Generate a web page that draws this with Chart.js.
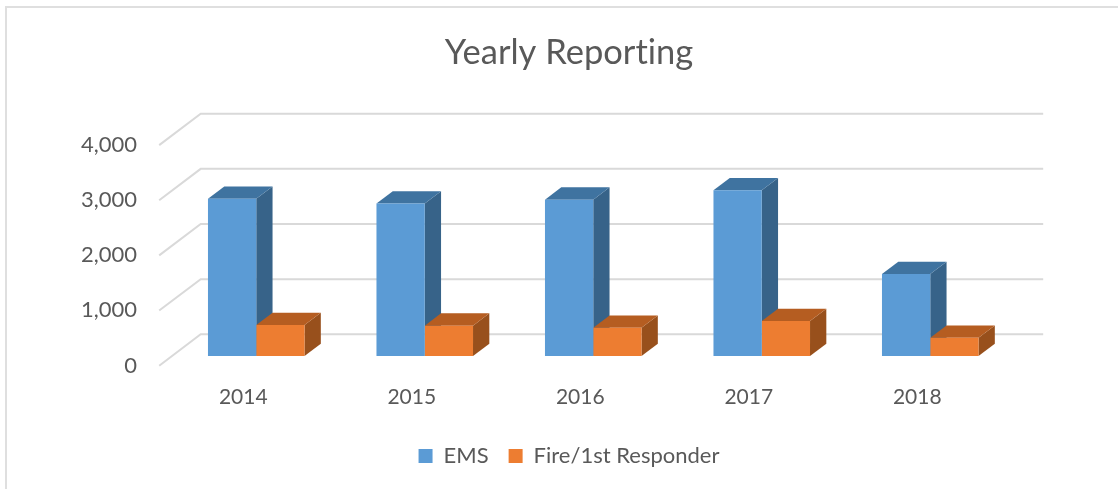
<!DOCTYPE html>
<html><head><meta charset="utf-8">
<style>html,body{margin:0;padding:0;background:#fff;overflow:hidden}#w{width:1118px;height:489px;position:relative}canvas{display:block}</style>
<script src="https://cdn.jsdelivr.net/npm/chart.js@4"></script></head>
<body><div id="w"><canvas id="c" width="1118" height="489"></canvas></div>
<script>
const categories = ['2014','2015','2016','2017','2018'];
const emsValues = [2850,2765,2835,3005,1485];
const fireValues = [560,550,510,635,330];
const yTicks = [0,1000,2000,3000,4000];

// 3D projection offsets (px) relative to the plane of the bar front faces
const barDepth = {dx:16.3, dy:-12.3};
const backPlane = {dx:28.7, dy:-21.7};
const frontPlane = {dx:-12.8, dy:9.7};

function shade(ctx, pts, fill){
  ctx.beginPath();
  pts.forEach((p,i)=> i?ctx.lineTo(p[0],p[1]):ctx.moveTo(p[0],p[1]));
  ctx.closePath();
  ctx.fillStyle = fill; ctx.fill();
}
const depth3d = {
  id:'depth3d',
  beforeDatasetsDraw(chart){
    const {ctx,chartArea:a,scales:{y}} = chart;
    ctx.save();
    ctx.strokeStyle='#d9d9d9'; ctx.lineWidth=2;
    yTicks.forEach(v=>{
      const p=y.getPixelForValue(v);
      ctx.beginPath();
      ctx.moveTo(a.left+frontPlane.dx,p+frontPlane.dy);
      ctx.lineTo(a.left+backPlane.dx,p+backPlane.dy);
      ctx.lineTo(a.right+backPlane.dx,p+backPlane.dy);
      ctx.stroke();
    });
    const faces=[['#3f73a0','#376389'],['#b55d21','#98501c']];
    chart.data.datasets.forEach((ds,di)=>{
      chart.getDatasetMeta(di).data.forEach(b=>{
        const l=b.x-b.width/2,r=b.x+b.width/2,t=b.y,bt=b.base,dx=barDepth.dx,dy=barDepth.dy;
        shade(ctx,[[r,t],[r+dx,t+dy],[r+dx,bt+dy],[r,bt]],faces[di][1]);
        shade(ctx,[[l,t],[l+dx,t+dy],[r+dx,t+dy],[r,t]],faces[di][0]);
      });
    });
    ctx.restore();
  }
};
const frame = {
  id:'frame',
  beforeDraw(chart){
    const {ctx,width,height}=chart;
    ctx.textRendering='optimizeSpeed';
    ctx.save();ctx.strokeStyle='#dfdfdf';ctx.lineWidth=2;
    ctx.beginPath();ctx.moveTo(6,height);ctx.lineTo(6,7);ctx.lineTo(width,7);ctx.stroke();
    ctx.restore();
  }
};
new Chart(document.getElementById('c'),{
  type:'bar',
  data:{labels:categories,datasets:[
    {label:'EMS',data:emsValues,backgroundColor:'#5b9bd5',barPercentage:1,categoryPercentage:0.573},
    {label:'Fire/1st Responder',data:fireValues,backgroundColor:'#ed7d31',barPercentage:1,categoryPercentage:0.573}
  ]},
  plugins:[depth3d,frame],
  options:{
    responsive:false,animation:false,
    layout:{padding:{left:20,right:0,top:0,bottom:12}},
    plugins:{
      title:{display:true,text:'Yearly Reporting',color:'#595959',font:{family:'Lato',size:34.5,weight:'normal'},padding:{top:32,bottom:62}},
      legend:{position:'bottom',labels:{color:'#595959',font:{family:'Lato',size:22},boxWidth:14,boxHeight:14,padding:20}},
      tooltip:{enabled:false}
    },
    scales:{
      x:{grid:{display:false,drawTicks:false},border:{display:false},afterFit(s){s.height=69;},
         ticks:{color:'#595959',font:{family:'Lato',size:21},padding:29,labelOffset:-13}},
      y:{min:0,max:4000,afterFit(s){s.width=152;},
         grid:{display:false,drawTicks:false},border:{display:false},
         ticks:{stepSize:1000,color:'#595959',font:{family:'Lato',size:22},labelOffset:9.5,padding:35,
                callback:v=>v.toLocaleString('en-US')}},
      r:{position:'right',min:0,max:1,afterFit(s){s.width=103.5;},
         grid:{display:false,drawTicks:false},border:{display:false},ticks:{display:false}}
    }
  }
});
</script></body></html>
